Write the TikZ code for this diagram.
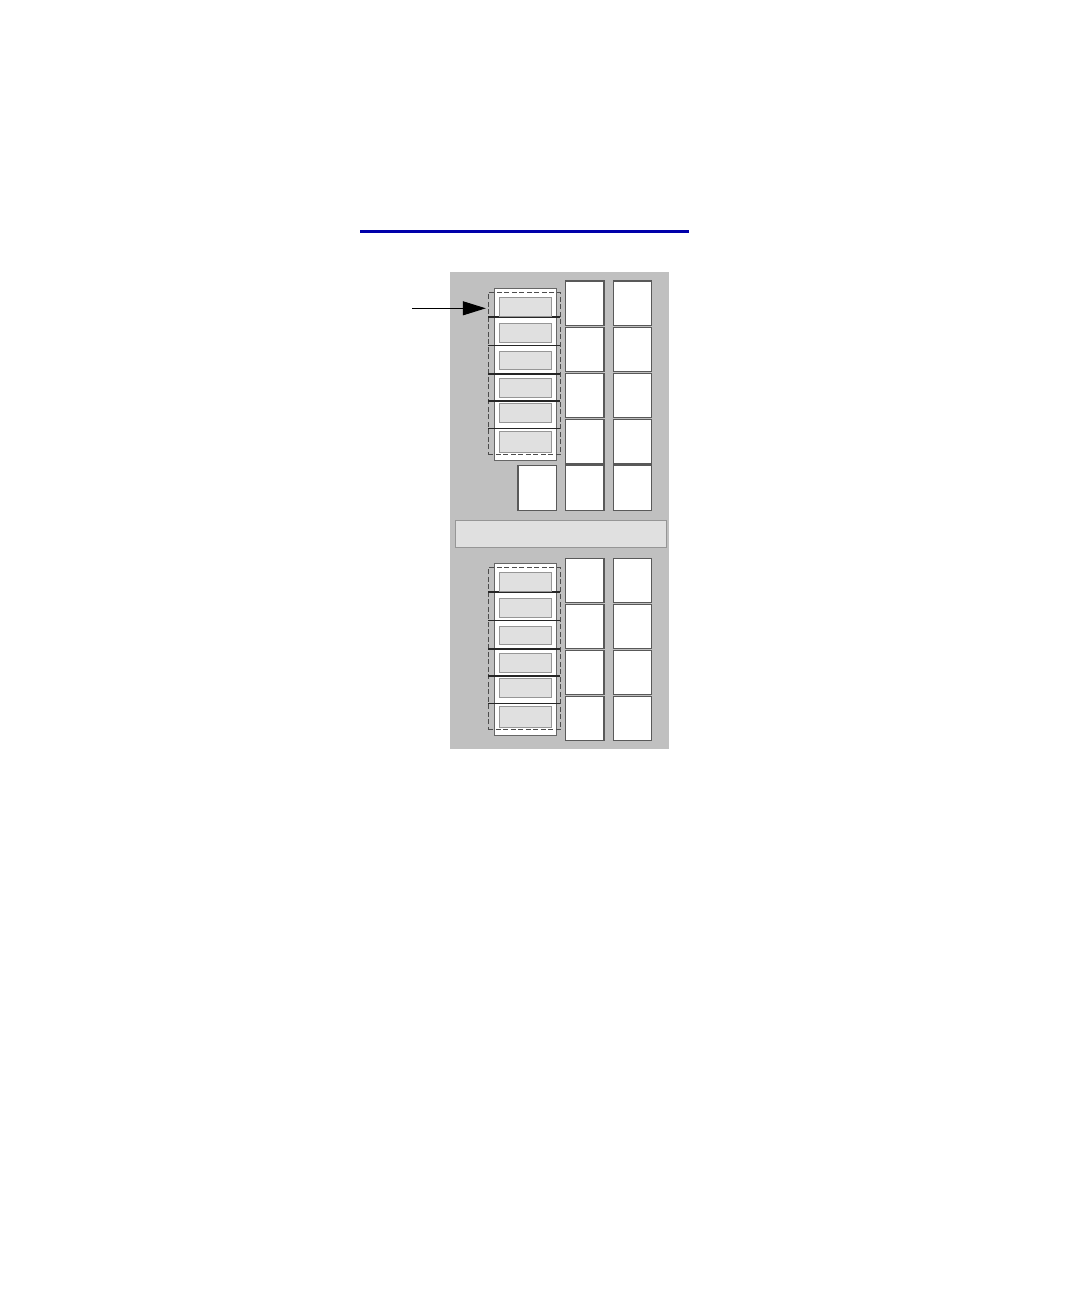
\documentclass[tikz,border=0pt]{standalone}
\usepackage{tikz}
\usetikzlibrary{arrows.meta, positioning}

\definecolor{panelgray}{RGB}{192,192,192}
\definecolor{slotgray}{RGB}{224,224,224}
\definecolor{edgegray}{RGB}{150,150,150}
\definecolor{ruleblue}{RGB}{0,0,170}

\begin{document}
\begin{tikzpicture}[x=1pt, y=-1pt,
  cell/.style={draw=black!65, fill=white, line width=1.2pt, minimum width=38.5pt, minimum height=44.5pt, inner sep=0pt},
  stackbox/.style={draw=black!60, fill=white, line width=1pt, minimum width=62.4pt, minimum height=171.7pt, inner sep=0pt},
  stackdash/.style={draw=black!70, dash pattern=on 5pt off 2.5pt, line width=1pt, minimum width=72pt, minimum height=161.9pt, inner sep=0pt},
  slot/.style={draw=edgegray, fill=slotgray, line width=0.8pt, minimum width=52.7pt, inner sep=0pt},
  divider/.style={draw=black!85, line width=1.6pt},
  pointer/.style={-{Triangle[length=23pt, width=14pt]}, line width=1pt, shorten >=2pt}]

\useasboundingbox (0,0) rectangle (1080,1296);

% Title rule
\draw[ruleblue, line width=2.5pt] (360,231.5) -- (689,231.5);

% Rack panel
\node[fill=panelgray, minimum width=219pt, minimum height=477pt, inner sep=0pt] (panel) at (559.5,510.5) {};

% Divider strip
\node[draw=edgegray, fill=slotgray, line width=0.8pt, minimum width=211.4pt, minimum height=27.3pt, inner sep=0pt] (strip) at (561,533.7) {};

% Module columns
\foreach \c/\x in {a/584.8, b/632.5} {
  \foreach \r in {1,...,5}
    \node[cell] (up-\c\r) at (\x, {303.2+46.2*(\r-1)}) {};
  \foreach \r in {1,...,4}
    \node[cell] (lo-\c\r) at (\x, {580.5+46*(\r-1)}) {};
}
\node[cell] (up-extra) at (537.2,488) {};

% Slot stacks
\foreach \s/\t in {up/288.3, lo/563.3} {
  \node[stackbox] (\s-box) at (525.5, {\t+85.85}) {};
  \node[stackdash] (\s-dash) at (524.3, {\t+85.45}) {};
  \foreach \d in {28.9, 57.3, 85.5, 112.8, 140.2}
    \draw[divider] (488.3, {\t+\d}) -- (560.3, {\t+\d});
  \foreach \a/\b [count=\i] in {9.5/27.8, 35.5/54.2, 63/81.2, 90.3/108.7, 115/133.8, 143.4/163.9}
    \node[slot, minimum height={(\b-\a)*1pt}] (\s-slot\i) at (525.4, {\t+(\a+\b)/2}) {};
}

% Pointer
\coordinate (arrowtail) at (412,308.3);
\draw[pointer] (arrowtail) -- (up-dash.west |- arrowtail);
\end{tikzpicture}
\end{document}
